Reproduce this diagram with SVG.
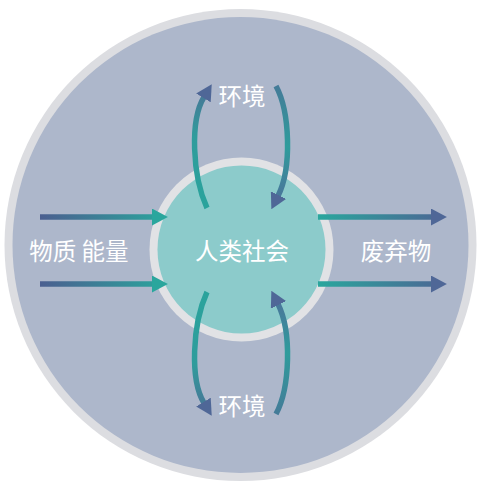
<svg xmlns="http://www.w3.org/2000/svg" width="481" height="486" viewBox="0 0 481 486">
<style>
.lbl{font-family:"Noto Sans CJK SC","Noto Sans",sans-serif;fill:#ffffff;font-size:23.5px;text-anchor:middle;dominant-baseline:central}
.conn{fill:none;stroke-width:5.5}
</style>
<defs>
<linearGradient id="gL" gradientUnits="userSpaceOnUse" x1="40" y1="0" x2="168" y2="0"><stop offset="0" stop-color="#4b5f90"/><stop offset="1" stop-color="#2aa69d"/></linearGradient>
<linearGradient id="gR" gradientUnits="userSpaceOnUse" x1="318" y1="0" x2="447" y2="0"><stop offset="0" stop-color="#2aa69d"/><stop offset="1" stop-color="#4d6594"/></linearGradient>
<linearGradient id="gTL" gradientUnits="userSpaceOnUse" x1="0" y1="208" x2="0" y2="88"><stop offset="0" stop-color="#2aa39c"/><stop offset="0.6" stop-color="#2f9c9c"/><stop offset="1" stop-color="#4a7396"/></linearGradient>
<linearGradient id="gTR" gradientUnits="userSpaceOnUse" x1="0" y1="86" x2="0" y2="208"><stop offset="0" stop-color="#447b98"/><stop offset="0.5" stop-color="#2f9c9c"/><stop offset="1" stop-color="#4f6e9a"/></linearGradient>
<linearGradient id="gBL" gradientUnits="userSpaceOnUse" x1="0" y1="292" x2="0" y2="412"><stop offset="0" stop-color="#2aa39c"/><stop offset="0.6" stop-color="#2f9c9c"/><stop offset="1" stop-color="#4a7396"/></linearGradient>
<linearGradient id="gBR" gradientUnits="userSpaceOnUse" x1="0" y1="414" x2="0" y2="292"><stop offset="0" stop-color="#447b98"/><stop offset="0.5" stop-color="#2f9c9c"/><stop offset="1" stop-color="#4f6e9a"/></linearGradient>
<marker id="hT" markerUnits="userSpaceOnUse" markerWidth="16" markerHeight="17" refX="1" refY="8" orient="auto" viewBox="0 0 15 16"><path d="M0,0 L15,8 L0,16 z" fill="#2aa69d"/></marker>
<marker id="hB" markerUnits="userSpaceOnUse" markerWidth="16" markerHeight="17" refX="1" refY="8" orient="auto" viewBox="0 0 15 16"><path d="M0,0 L15,8 L0,16 z" fill="#4f6797"/></marker>
</defs>
<g id="outer">
<circle cx="240.5" cy="245" r="236" fill="#dcdde1"/>
<circle cx="240.5" cy="245" r="228" fill="#adb7cb"/>
</g>
<g id="society">
<circle cx="241.5" cy="249.5" r="92" fill="#e1e2e5"/>
<circle cx="241.5" cy="249.5" r="84" fill="#8ccbcb"/>
<text class="lbl" x="242" y="250">人类社会</text>
</g>
<g id="connectors">
<line class="conn" x1="40" y1="217" x2="153" y2="217" stroke="url(#gL)" marker-end="url(#hT)"/>
<line class="conn" x1="40" y1="284" x2="153" y2="284" stroke="url(#gL)" marker-end="url(#hT)"/>
<line class="conn" x1="318" y1="217" x2="432" y2="217" stroke="url(#gR)" marker-end="url(#hB)"/>
<line class="conn" x1="318" y1="284" x2="432" y2="284" stroke="url(#gR)" marker-end="url(#hB)"/>
<path class="conn" d="M207,208 C192,175 190,120 204,97" stroke="url(#gTL)" marker-end="url(#hB)"/>
<path class="conn" d="M276,86 C290,112 292,168 278,196" stroke="url(#gTR)" marker-end="url(#hB)"/>
<path class="conn" d="M207,292 C192,325 190,380 204,403" stroke="url(#gBL)" marker-end="url(#hB)"/>
<path class="conn" d="M276,414 C290,388 292,332 278,304" stroke="url(#gBR)" marker-end="url(#hB)"/>
</g>
<g id="env-top"><text class="lbl" x="242" y="95">环境</text></g>
<g id="env-bottom"><text class="lbl" x="242" y="405">环境</text></g>
<g id="input"><text class="lbl" x="79" y="250">物质 能量</text></g>
<g id="waste"><text class="lbl" x="396" y="250">废弃物</text></g>
</svg>
